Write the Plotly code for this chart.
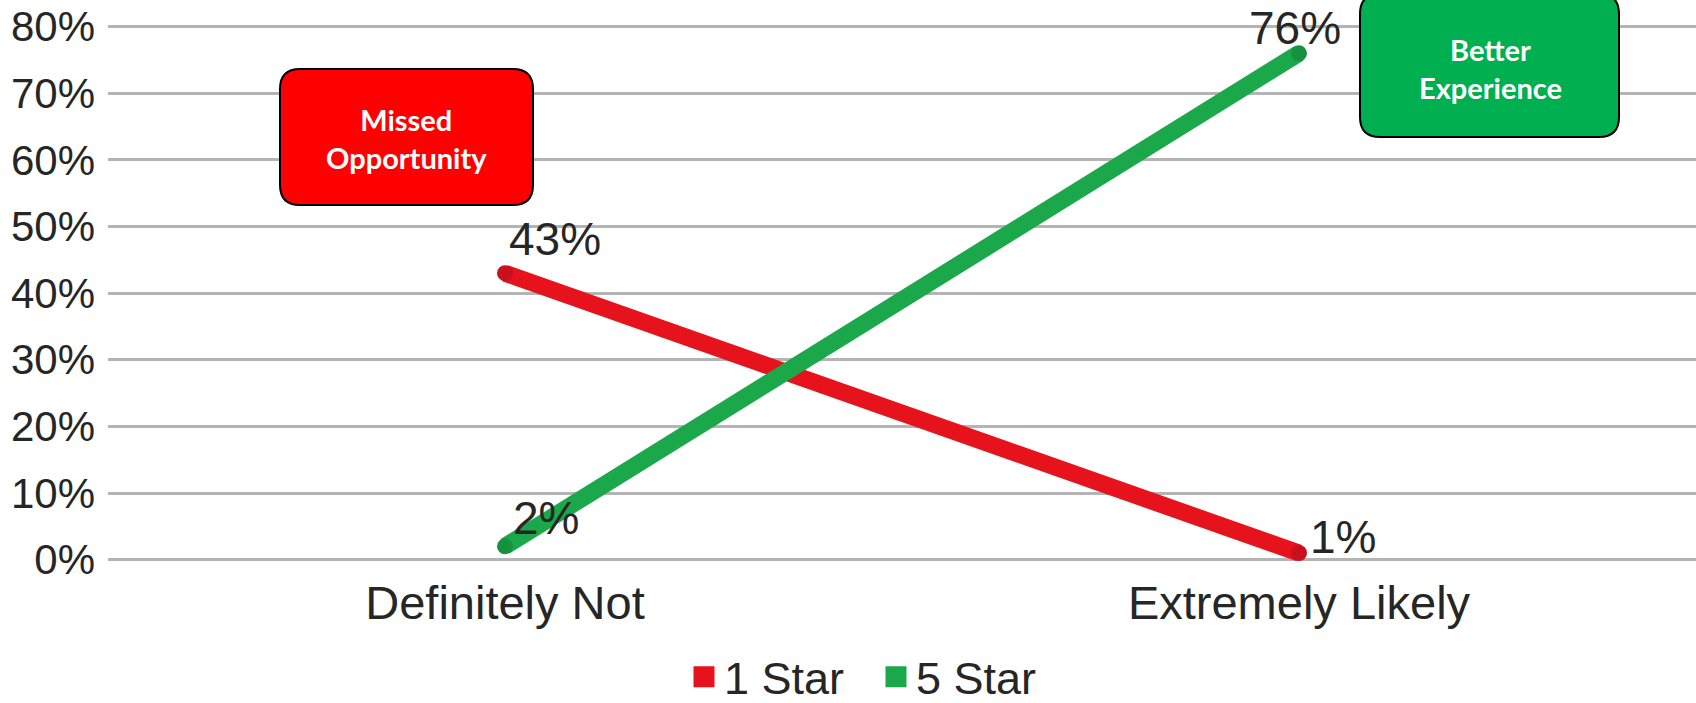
import plotly.graph_objects as go

# ---- data -------------------------------------------------------------
categories = ["Definitely Not", "Extremely Likely"]
one_star = [43, 1]
five_star = [2, 76]
y_ticks = [0, 10, 20, 30, 40, 50, 60, 70, 80]
y_tick_labels = [f"{v}%" for v in y_ticks]

series = [
    dict(name="1 Star", values=one_star, color="#e6121c", cap="#c8101e"),
    dict(name="5 Star", values=five_star, color="#1ba84a", cap="#16913f"),
]

# value-label placement per point: (xanchor, xshift px, yshift px)
label_place = {
    "1 Star": [("left", 2, 34), ("left", 9, 16)],
    "5 Star": [("left", 6, 28), ("center", -4, 25)],
}

# ---- canvas -----------------------------------------------------------
W, H = 1696, 703
M = dict(l=108, r=0, t=20, b=140, autoexpand=False)
PW, PH = W - M["l"] - M["r"], H - M["t"] - M["b"]
FONT = "Liberation Sans, Arial, sans-serif"
TEXT = "#262626"


def to_paper(px, py):
    return (px - M["l"]) / PW, (H - M["b"] - py) / PH


def rounded_box(x0, y0, x1, y1, r):
    pts = [
        ("M", [(x0 + r, y0)]),
        ("L", [(x1 - r, y0)]),
        ("Q", [(x1, y0), (x1, y0 + r)]),
        ("L", [(x1, y1 - r)]),
        ("Q", [(x1, y1), (x1 - r, y1)]),
        ("L", [(x0 + r, y1)]),
        ("Q", [(x0, y1), (x0, y1 - r)]),
        ("L", [(x0, y0 + r)]),
        ("Q", [(x0, y0), (x0 + r, y0)]),
    ]
    parts = []
    for cmd, coords in pts:
        c = " ".join("%.5f,%.5f" % to_paper(px, py) for px, py in coords)
        parts.append(f"{cmd} {c}")
    return " ".join(parts) + " Z"


fig = go.Figure()

for s in series:
    fig.add_trace(go.Scatter(
        x=categories, y=s["values"], mode="lines+markers", name=s["name"],
        line=dict(color=s["color"], width=17),
        marker=dict(color=s["cap"], size=16, line=dict(width=0)),
        showlegend=False, hoverinfo="skip",
    ))

# legend entries drawn as square swatches
for s in series:
    fig.add_trace(go.Scatter(
        x=[None], y=[None], mode="markers", name=s["name"],
        marker=dict(symbol="square", size=16, color=s["color"],
                    line=dict(color=s["color"], width=5)),
    ))

# value labels
for s in series:
    for cat, v, (anchor, dx, dy) in zip(categories, s["values"], label_place[s["name"]]):
        fig.add_annotation(
            x=cat, y=v, xref="x", yref="y", text=f"{v}%", showarrow=False,
            xanchor=anchor, yanchor="middle", xshift=dx, yshift=dy,
            font=dict(family=FONT, size=46, color=TEXT),
        )

# callout boxes
callouts = [
    dict(text="Missed<br>Opportunity", box=(280, 69, 533, 205), fill="#ff0000"),
    dict(text="Better<br>Experience", box=(1360, -6, 1619, 137), fill="#00b050"),
]
text_centers = [(406, 138), (1490, 68)]
for c, (tx, ty) in zip(callouts, text_centers):
    x0, y0, x1, y1 = c["box"]
    fig.add_shape(type="path", xref="paper", yref="paper",
                  path=rounded_box(x0, y0, x1, y1, 20),
                  fillcolor=c["fill"], line=dict(color="#000000", width=2),
                  layer="above")
    cx, cy = to_paper(tx, ty)
    fig.add_annotation(
        x=cx, y=cy, xref="paper", yref="paper", text=f"<b>{c['text']}</b>",
        showarrow=False, xanchor="center", yanchor="middle",
        font=dict(family="Lato, Open Sans, sans-serif", size=29, color="#ffffff"),
    )

fig.update_layout(
    width=W, height=H, margin=M,
    paper_bgcolor="#ffffff", plot_bgcolor="#ffffff",
    font=dict(family=FONT, color=TEXT),
    showlegend=True,
    legend=dict(orientation="h", x=(684 - M["l"]) / PW, xanchor="left",
                y=(H - M["b"] - 677) / PH, yanchor="middle",
                font=dict(family=FONT, size=45, color=TEXT),
                itemwidth=30, entrywidth=147, entrywidthmode="pixels",
                bgcolor="rgba(0,0,0,0)"),
    xaxis=dict(type="category", range=[-0.5, 1.5], automargin=False,
               showgrid=False, zeroline=False, showline=False,
               tickfont=dict(family=FONT, size=47, color=TEXT),
               ticklabelstandoff=8, fixedrange=True),
    yaxis=dict(range=[-0.5, 81], tickvals=y_ticks, ticktext=y_tick_labels,
               automargin=False,
               showgrid=True, gridcolor="#b4b4b4", gridwidth=3,
               zeroline=False, showline=False,
               tickfont=dict(family=FONT, size=42, color=TEXT),
               ticklabelstandoff=12, fixedrange=True),
)

fig.write_html("out.html")
